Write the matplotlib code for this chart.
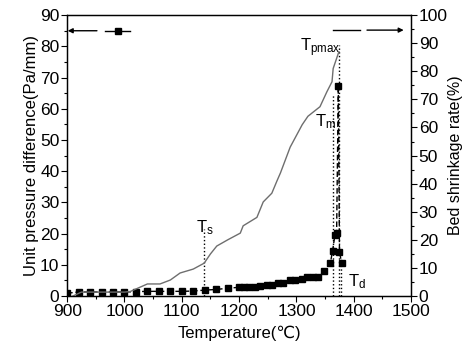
import numpy as np
import matplotlib
matplotlib.use("Agg")
import matplotlib.pyplot as plt
from matplotlib.ticker import MultipleLocator

plt.rcParams['font.family'] = ['Liberation Sans', 'DejaVu Sans']
plt.rcParams['mathtext.default'] = 'regular'

# unit pressure difference (left axis), square markers
temp_p = [900, 920, 940, 960, 980, 1000, 1020, 1040, 1060, 1080, 1100, 1120, 1140,
          1160, 1180, 1200, 1208, 1217, 1228, 1237, 1248, 1257, 1268, 1277, 1289,
          1298, 1309, 1318, 1329, 1338, 1348, 1359, 1363, 1367, 1370, 1373, 1375, 1379]
pressure = [0.9, 1.3, 1.3, 1.3, 1.3, 1.3, 1.4, 1.5, 1.5, 1.5, 1.5, 1.6, 1.9,
            2.1, 2.5, 2.8, 3.0, 3.0, 3.0, 3.3, 3.5, 3.6, 4.1, 4.3, 5.1,
            5.0, 5.4, 6.0, 6.0, 6.0, 8.1, 10.5, 14.5, 19.5, 20.3, 67.3, 14.0, 10.5]

# bed shrinkage rate (right axis), grey line
temp_s = [910, 925, 1000, 1010, 1020, 1040, 1062, 1080, 1097, 1120, 1139, 1150, 1161,
          1180, 1202, 1207, 1231, 1242, 1257, 1266, 1272, 1289, 1310, 1320, 1341,
          1353, 1362, 1364, 1368, 1374]
shrink = [0.0, 1.4, 1.4, 1.6, 2.5, 4.3, 4.3, 5.7, 8.2, 9.6, 11.7, 15.0, 17.8,
          20.0, 22.4, 25.0, 28.0, 33.5, 36.6, 41.0, 43.8, 53.0, 61.0, 64.0, 67.4,
          72.7, 76.3, 81.0, 83.4, 87.0]

# characteristic temperatures: (name, T, top of dotted line on left axis)
marks = [("s", 1138, 21.5), ("m", 1364, 64.5), ("pmax", 1374, 80.5), ("d", 1378, 12.0)]
label_pos = {"s": (1124, 22.0), "m": (1333, 56.0), "pmax": (1306, 79.5), "d": (1390, 4.5)}

fig = plt.figure(figsize=(4.63, 3.52), dpi=100)
ax1 = fig.add_axes([0.145, 0.159, 0.743, 0.798])
ax2 = ax1.twinx()

ax1.plot(temp_p, pressure, ls=(0, (4, 2)), color='black', lw=1.0,
         marker='s', ms=3.8, mfc='black', mec='black', zorder=3)
ax2.plot(temp_s, shrink, color='#6e6e6e', lw=1.0)

for name, t, top in marks:
    ax1.plot([t, t], [0, top], ls=':', color='black', lw=1.0)
    lx, ly = label_pos[name]
    ax1.text(lx, ly, r'$T_{\mathregular{%s}}$' % name, fontsize=12,
             ha='left', va='center')

# arrow keys showing which curve belongs to which axis
ax1.annotate('', xy=(901, 85), xytext=(952, 85),
             arrowprops=dict(arrowstyle='-|>', color='black', lw=1.0,
                             mutation_scale=7, shrinkA=0, shrinkB=0))
ax1.plot([966, 1010], [85, 85], color='black', lw=1.0)
ax1.plot([988], [85], marker='s', ms=3.8, color='black')
ax1.plot([1364, 1411], [85.2, 85.2], color='black', lw=1.0)
ax1.annotate('', xy=(1487, 85.2), xytext=(1423, 85.2),
             arrowprops=dict(arrowstyle='-|>', color='black', lw=1.0,
                             mutation_scale=7, shrinkA=0, shrinkB=0))

ax1.set_xlim(900, 1500)
ax1.set_ylim(0, 90)
ax2.set_ylim(0, 100)

ax1.xaxis.set_major_locator(MultipleLocator(100))
ax1.xaxis.set_minor_locator(MultipleLocator(50))
ax1.yaxis.set_major_locator(MultipleLocator(10))
ax1.yaxis.set_minor_locator(MultipleLocator(5))
ax2.yaxis.set_major_locator(MultipleLocator(10))
ax2.yaxis.set_minor_locator(MultipleLocator(5))

for ax in (ax1, ax2):
    ax.tick_params(which='major', direction='out', length=4, width=0.8,
                   labelsize=12.5, pad=1.5)
    ax.tick_params(which='minor', direction='out', length=2.5, width=0.8)
    for sp in ax.spines.values():
        sp.set_linewidth(0.9)

ax1.set_xlabel('Temperature(\u2103)', fontsize=12, labelpad=5)
ax1.set_ylabel('Unit pressure difference(Pa/mm)', fontsize=12, labelpad=1)
ax2.set_ylabel('Bed shrinkage rate(%)', fontsize=11.5, labelpad=0)

fig.savefig('out.png', dpi=100)
